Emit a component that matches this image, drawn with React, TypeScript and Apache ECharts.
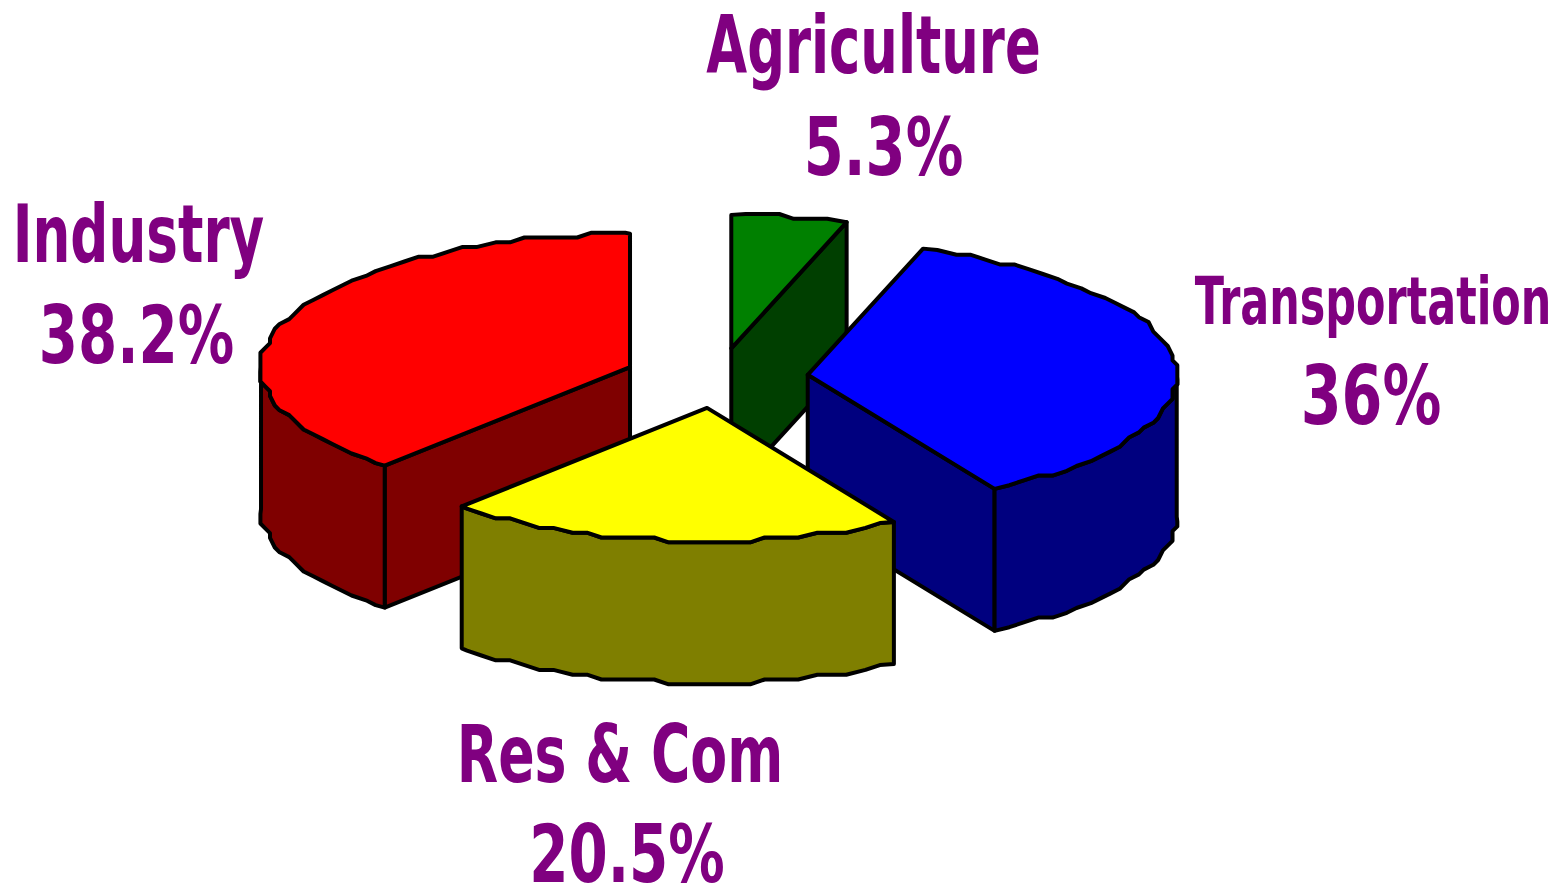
import React, { useEffect, useRef } from "react";
import * as echarts from "echarts";

// Clockwise from twelve o'clock
const sliceNames = ["Agriculture", "Transportation", "Res & Com", "Industry"];
const sliceValues = [5.3, 36, 20.5, 38.2];
const percentLabels = ["5.3%", "36%", "20.5%", "38.2%"];
const topColors = ["#008000", "#0000ff", "#ffff00", "#ff0000"];
const sideColors = ["#003f00", "#00007f", "#7f7f00", "#7f0000"];
const paintOrder = [0, 3, 1, 2];

const CX = 716;
const CY = 378;
const RX = 369;
const RY = 133.5;
const DEPTH = 142;
const EXPLODE_X = 0.25;
const EXPLODE_Y = 0.225;
const X_POWER = 1.04;
const GRID = 4.8;
const STEP = 2.7;
const STROKE = 4;

type Pt = [number, number];
const rad = (d: number) => (d * Math.PI) / 180;
const total = sliceValues.reduce((a, b) => a + b, 0);

function sweep(i: number): [number, number] {
  let s = 0;
  for (let k = 0; k < i; k++) s += sliceValues[k];
  return [(s / total) * 360, ((s + sliceValues[i]) / total) * 360];
}

function edgeOffset(t: number): Pt {
  const s = Math.sin(rad(t));
  return [RX * Math.sign(s) * Math.pow(Math.abs(s), X_POWER), -RY * Math.cos(rad(t))];
}

function arc(ax: number, ay: number, a0: number, a1: number): Pt[] {
  const exact = (t: number): Pt => {
    const [dx, dy] = edgeOffset(t);
    return [ax + dx, ay + dy];
  };
  const pts: Pt[] = [exact(a0)];
  for (let t = Math.ceil(a0 / STEP) * STEP; t < a1 - 0.5; t += STEP) {
    if (t <= a0 + 0.5) continue;
    const [dx, dy] = edgeOffset(t);
    pts.push([ax + Math.round(dx / GRID) * GRID, ay + Math.round(dy / GRID) * GRID]);
  }
  pts.push(exact(a1));
  return pts;
}

const down = (pts: Pt[]): Pt[] => pts.map(([x, y]) => [x, y + DEPTH] as Pt);

function renderSlice(params: any) {
  const i = paintOrder[params.dataIndex];
  const [a0, a1] = sweep(i);
  const mid = (a0 + a1) / 2;
  const ax = CX + EXPLODE_X * RX * Math.sin(rad(mid));
  const ay = CY - EXPLODE_Y * RY * Math.cos(rad(mid));
  const face = (points: Pt[], fill: string) => ({
    type: "polygon",
    shape: { points },
    silent: true,
    style: { fill, stroke: "#000", lineWidth: STROKE, lineJoin: "round" },
  });
  const children: any[] = [];
  const cut = (t: number) => {
    const [dx, dy] = edgeOffset(t);
    const e: Pt = [ax + dx, ay + dy];
    children.push(face([[ax, ay], e, [e[0], e[1] + DEPTH], [ax, ay + DEPTH]], sideColors[i]));
  };
  if (Math.sin(rad(a0)) < -0.001) cut(a0);
  if (Math.sin(rad(a1)) > 0.001) cut(a1);
  const w0 = Math.max(a0, 90);
  const w1 = Math.min(a1, 270);
  if (w1 > w0) {
    const rim = arc(ax, ay, w0, w1);
    children.push(face([...rim, ...down(rim).reverse()], sideColors[i]));
  }
  children.push(face([[ax, ay], ...arc(ax, ay, a0, a1)], topColors[i]));
  return { type: "group", children };
}

// [name center x, percent center x, name top, percent top, name font size, percent font size, name x scale, percent x scale]
const labelPlaces: number[][] = [
  [873.5, 883.5, 5, 107, 80, 80, 0.66, 0.72],
  [1373, 1371, 268, 355, 66, 82, 0.65, 0.717],
  [620, 627, 714, 814, 80, 80, 0.672, 0.705],
  [138.5, 136.5, 194, 295, 80, 80, 0.665, 0.705],
];

function labelGraphics() {
  const out: any[] = [];
  sliceNames.forEach((name, i) => {
    const [x1, x2, y1, y2, f1, f2, s1, s2] = labelPlaces[i];
    const line = (text: string, x: number, y: number, size: number, sx: number) => ({
      type: "text",
      x,
      y,
      scaleX: sx,
      silent: true,
      style: {
        text,
        fill: "#800080",
        font: `bold ${size}px "DejaVu Sans"`,
        textAlign: "center",
        textVerticalAlign: "top",
      },
    });
    out.push(line(name, x1, y1, f1, s1), line(percentLabels[i], x2, y2, f2, s2));
  });
  return out;
}

export default function App() {
  const ref = useRef<HTMLDivElement>(null);
  useEffect(() => {
    const chart = echarts.init(ref.current!, undefined, { renderer: "svg" });
    chart.setOption({
      animation: false,
      backgroundColor: "#ffffff",
      graphic: labelGraphics(),
      series: [
        {
          type: "custom",
          coordinateSystem: "none",
          silent: true,
          clip: false,
          data: paintOrder.map((i) => ({ name: sliceNames[i], value: sliceValues[i] })),
          renderItem: renderSlice,
        },
      ],
    });
    return () => chart.dispose();
  }, []);
  return <div ref={ref} style={{ position: "absolute", left: 0, top: 0, width: 1564, height: 887 }} />;
}
